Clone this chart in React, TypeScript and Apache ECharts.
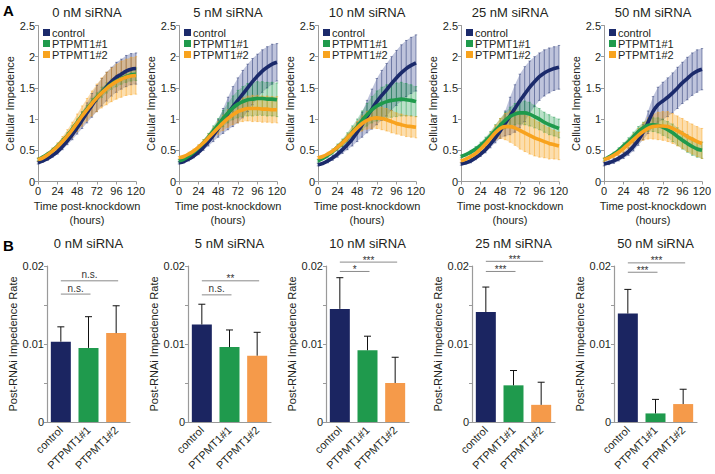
import React, { useEffect, useRef } from 'react';
import * as echarts from 'echarts';

// ---------- DATA ----------
const hours = [0, 6, 12, 18, 24, 30, 36, 42, 48, 54, 60, 66, 72, 78, 84, 90, 96, 102, 108, 114, 120];
const panelTitles = ['0 nM siRNA', '5 nM siRNA', '10 nM siRNA', '25 nM siRNA', '50 nM siRNA'];
const groupNames = ['control', 'PTPMT1#1', 'PTPMT1#2'];

// 0 nM
const ctrl0 = [0.30, 0.33, 0.37, 0.42, 0.48, 0.56, 0.65, 0.75, 0.86, 0.98, 1.10, 1.22, 1.33, 1.43, 1.52, 1.60, 1.67, 1.72, 1.77, 1.80, 1.81];
const ctrl0Err = [0.02, 0.02, 0.03, 0.03, 0.04, 0.05, 0.06, 0.08, 0.10, 0.13, 0.16, 0.19, 0.21, 0.22, 0.23, 0.23, 0.24, 0.24, 0.25, 0.25, 0.25];
const ptA0 = [0.35, 0.39, 0.44, 0.50, 0.57, 0.65, 0.74, 0.84, 0.95, 1.06, 1.16, 1.26, 1.35, 1.43, 1.50, 1.56, 1.61, 1.65, 1.68, 1.71, 1.72];
const ptA0Err = [0.02, 0.02, 0.02, 0.03, 0.03, 0.04, 0.04, 0.05, 0.05, 0.06, 0.06, 0.07, 0.07, 0.08, 0.08, 0.08, 0.09, 0.09, 0.09, 0.10, 0.10];
const ptB0 = [0.35, 0.38, 0.43, 0.49, 0.56, 0.64, 0.73, 0.83, 0.94, 1.05, 1.15, 1.25, 1.34, 1.42, 1.49, 1.55, 1.60, 1.64, 1.67, 1.69, 1.70];
const ptB0Err = [0.03, 0.03, 0.04, 0.05, 0.06, 0.08, 0.10, 0.12, 0.14, 0.16, 0.18, 0.20, 0.22, 0.24, 0.26, 0.27, 0.28, 0.29, 0.29, 0.30, 0.30];
// 5 nM
const ctrl5 = [0.30, 0.32, 0.36, 0.41, 0.47, 0.55, 0.64, 0.74, 0.85, 0.97, 1.09, 1.20, 1.30, 1.40, 1.50, 1.60, 1.69, 1.77, 1.83, 1.88, 1.91];
const ctrl5Err = [0.02, 0.02, 0.03, 0.03, 0.04, 0.05, 0.07, 0.10, 0.14, 0.20, 0.26, 0.32, 0.36, 0.38, 0.38, 0.37, 0.35, 0.34, 0.33, 0.32, 0.30];
const ptA5 = [0.33, 0.36, 0.41, 0.47, 0.54, 0.62, 0.71, 0.81, 0.91, 1.01, 1.10, 1.18, 1.24, 1.28, 1.31, 1.32, 1.33, 1.33, 1.32, 1.32, 1.31];
const ptA5Err = [0.02, 0.02, 0.03, 0.03, 0.04, 0.05, 0.06, 0.08, 0.10, 0.13, 0.16, 0.19, 0.22, 0.24, 0.26, 0.27, 0.27, 0.27, 0.27, 0.27, 0.27];
const ptB5 = [0.38, 0.40, 0.44, 0.49, 0.55, 0.62, 0.70, 0.78, 0.86, 0.94, 1.01, 1.07, 1.12, 1.15, 1.17, 1.17, 1.17, 1.16, 1.16, 1.15, 1.15];
const ptB5Err = [0.02, 0.02, 0.03, 0.03, 0.04, 0.05, 0.06, 0.08, 0.10, 0.12, 0.14, 0.16, 0.18, 0.19, 0.20, 0.21, 0.21, 0.21, 0.21, 0.21, 0.21];
// 10 nM
const ctrl10 = [0.27, 0.29, 0.33, 0.38, 0.44, 0.51, 0.59, 0.68, 0.79, 0.91, 1.04, 1.16, 1.28, 1.38, 1.47, 1.57, 1.66, 1.74, 1.81, 1.86, 1.90];
const ctrl10Err = [0.02, 0.02, 0.03, 0.04, 0.05, 0.06, 0.08, 0.11, 0.15, 0.20, 0.26, 0.32, 0.37, 0.40, 0.42, 0.43, 0.44, 0.45, 0.45, 0.45, 0.45];
const ptA10 = [0.33, 0.37, 0.42, 0.48, 0.55, 0.62, 0.70, 0.79, 0.88, 0.98, 1.07, 1.15, 1.21, 1.25, 1.28, 1.30, 1.31, 1.32, 1.31, 1.30, 1.28];
const ptA10Err = [0.02, 0.02, 0.03, 0.04, 0.05, 0.06, 0.08, 0.10, 0.12, 0.15, 0.18, 0.21, 0.24, 0.26, 0.27, 0.27, 0.27, 0.27, 0.26, 0.25, 0.24];
const ptB10 = [0.38, 0.40, 0.44, 0.49, 0.55, 0.62, 0.70, 0.78, 0.86, 0.93, 0.98, 1.01, 1.02, 1.01, 0.99, 0.96, 0.93, 0.91, 0.89, 0.88, 0.87];
const ptB10Err = [0.02, 0.02, 0.03, 0.03, 0.04, 0.05, 0.06, 0.08, 0.10, 0.12, 0.14, 0.16, 0.17, 0.18, 0.18, 0.18, 0.17, 0.17, 0.17, 0.17, 0.17];
// 25 nM
const ctrl25 = [0.28, 0.30, 0.33, 0.38, 0.44, 0.51, 0.60, 0.70, 0.81, 0.93, 1.05, 1.17, 1.29, 1.40, 1.51, 1.60, 1.68, 1.74, 1.78, 1.81, 1.83];
const ctrl25Err = [0.02, 0.02, 0.03, 0.03, 0.04, 0.05, 0.06, 0.08, 0.12, 0.20, 0.30, 0.38, 0.43, 0.44, 0.42, 0.40, 0.38, 0.37, 0.36, 0.35, 0.35];
const ptA25 = [0.40, 0.43, 0.47, 0.52, 0.58, 0.65, 0.73, 0.82, 0.90, 0.98, 1.04, 1.08, 1.10, 1.10, 1.08, 1.04, 1.00, 0.95, 0.91, 0.88, 0.85];
const ptA25Err = [0.02, 0.02, 0.03, 0.04, 0.05, 0.06, 0.07, 0.09, 0.11, 0.13, 0.15, 0.17, 0.18, 0.19, 0.19, 0.18, 0.17, 0.16, 0.16, 0.15, 0.15];
const ptB25 = [0.33, 0.36, 0.40, 0.45, 0.52, 0.60, 0.69, 0.78, 0.85, 0.88, 0.88, 0.86, 0.82, 0.78, 0.74, 0.70, 0.67, 0.64, 0.61, 0.59, 0.57];
const ptB25Err = [0.02, 0.02, 0.03, 0.04, 0.05, 0.07, 0.09, 0.12, 0.16, 0.21, 0.25, 0.28, 0.30, 0.30, 0.30, 0.29, 0.28, 0.26, 0.25, 0.23, 0.22];
// 50 nM
const ctrl50 = [0.28, 0.30, 0.33, 0.37, 0.42, 0.48, 0.56, 0.66, 0.79, 0.95, 1.12, 1.23, 1.29, 1.35, 1.42, 1.50, 1.58, 1.65, 1.72, 1.77, 1.80];
const ctrl50Err = [0.03, 0.03, 0.04, 0.04, 0.05, 0.06, 0.07, 0.08, 0.12, 0.18, 0.24, 0.28, 0.30, 0.31, 0.32, 0.33, 0.33, 0.34, 0.34, 0.34, 0.33];
const ptA50 = [0.35, 0.39, 0.44, 0.50, 0.57, 0.64, 0.72, 0.80, 0.86, 0.90, 0.91, 0.90, 0.87, 0.83, 0.78, 0.72, 0.66, 0.61, 0.56, 0.52, 0.50];
const ptA50Err = [0.02, 0.02, 0.03, 0.04, 0.05, 0.06, 0.07, 0.08, 0.09, 0.10, 0.11, 0.12, 0.13, 0.13, 0.14, 0.14, 0.14, 0.14, 0.14, 0.13, 0.13];
const ptB50 = [0.35, 0.38, 0.42, 0.47, 0.53, 0.60, 0.67, 0.74, 0.80, 0.85, 0.88, 0.89, 0.89, 0.88, 0.85, 0.81, 0.77, 0.72, 0.68, 0.64, 0.61];
const ptB50Err = [0.03, 0.03, 0.04, 0.05, 0.06, 0.07, 0.09, 0.11, 0.14, 0.17, 0.20, 0.22, 0.23, 0.24, 0.24, 0.24, 0.24, 0.24, 0.24, 0.24, 0.24];

// Post-RNAi impedance rate (bars) and SD
const rate0 = [0.0103, 0.0095, 0.0114];
const rate0Err = [0.0019, 0.0040, 0.0035];
const rate5 = [0.0125, 0.0096, 0.0085];
const rate5Err = [0.0026, 0.0022, 0.0030];
const rate10 = [0.0145, 0.0092, 0.0050];
const rate10Err = [0.0040, 0.0018, 0.0033];
const rate25 = [0.0141, 0.0047, 0.0022];
const rate25Err = [0.0032, 0.0019, 0.0029];
const rate50 = [0.0139, 0.0011, 0.0023];
const rate50Err = [0.0031, 0.0018, 0.0019];

// significance brackets: [from category, to category, height, label]
const sig0: [number, number, number, string][] = [[0, 2, 0.0181, 'n.s.'], [0, 1, 0.0164, 'n.s.']];
const sig5: [number, number, number, string][] = [[0, 2, 0.0181, '**'], [0, 1, 0.0163, 'n.s.']];
const sig10: [number, number, number, string][] = [[0, 2, 0.0205, '***'], [0, 1, 0.0193, '*']];
const sig25: [number, number, number, string][] = [[0, 2, 0.0206, '***'], [0, 1, 0.0193, '***']];
const sig50: [number, number, number, string][] = [[0, 2, 0.0204, '***'], [0, 1, 0.0192, '***']];

const impMeans = [[ctrl0, ptA0, ptB0], [ctrl5, ptA5, ptB5], [ctrl10, ptA10, ptB10], [ctrl25, ptA25, ptB25], [ctrl50, ptA50, ptB50]];
const impErrs = [[ctrl0Err, ptA0Err, ptB0Err], [ctrl5Err, ptA5Err, ptB5Err], [ctrl10Err, ptA10Err, ptB10Err], [ctrl25Err, ptA25Err, ptB25Err], [ctrl50Err, ptA50Err, ptB50Err]];
const rates = [rate0, rate5, rate10, rate25, rate50];
const rateErrs = [rate0Err, rate5Err, rate10Err, rate25Err, rate50Err];
const sigs = [sig0, sig5, sig10, sig25, sig50];

// ---------- STYLE / LAYOUT ----------
const FONT = '"Liberation Sans", Arial, sans-serif';
const TXT = '#231f20';
const AX = '#9a9a9a';
const lineCol = ['#1b2a6b', '#1f9a4c', '#f8a31e'];
const bandCol = ['rgba(60,75,150,0.33)', 'rgba(31,154,76,0.30)', 'rgba(248,163,30,0.36)'];
const barCol = ['#1b2561', '#1f9a4d', '#f59a4a'];
const topLeft = [38, 179, 318, 461, 604];
const topW = 98;
const topTop = 25.5;
const topH = 156;
const botLeft = [47, 188, 326, 472, 614];
const botW = 83;
const botTop = 266;
const botH = 156;

function buildOption() {
  const option: any = {
    animation: false,
    textStyle: { fontFamily: FONT, color: TXT },
    title: [],
    grid: [],
    xAxis: [],
    yAxis: [],
    legend: [],
    series: [],
  };
  option.title.push({ text: 'A', left: 3, top: 3, padding: 0, textStyle: { fontFamily: FONT, fontSize: 15, fontWeight: 'bold', color: '#000' } });
  option.title.push({ text: 'B', left: 3, top: 238, padding: 0, textStyle: { fontFamily: FONT, fontSize: 15, fontWeight: 'bold', color: '#000' } });

  for (let p = 0; p < 5; p++) {
    const ti = 2 * p; // top grid / axis index
    const gi = 2 * p + 1; // bottom grid / axis index

    // ---- top line panel ----
    option.title.push({
      text: panelTitles[p], left: topLeft[p] + topW / 2, top: 6, textAlign: 'center', padding: 0,
      textStyle: { fontFamily: FONT, fontSize: 13, fontWeight: 'normal', color: TXT },
    });
    option.grid.push({ left: topLeft[p], top: topTop, width: topW, height: topH });
    option.xAxis.push({
      type: 'value', gridIndex: ti, min: 0, max: 120, interval: 24,
      axisLine: { lineStyle: { color: AX } },
      axisTick: { show: true, length: 3, lineStyle: { color: AX } },
      axisLabel: { fontSize: 11, color: TXT, margin: 4, fontFamily: FONT },
      splitLine: { show: false },
      name: 'Time post-knockdown\n(hours)', nameLocation: 'middle', nameGap: 17,
      nameTextStyle: { fontSize: 11, color: TXT, lineHeight: 14, fontFamily: FONT },
    });
    option.yAxis.push({
      type: 'value', gridIndex: ti, min: 0, max: 2.5, interval: 0.5,
      axisLine: { show: true, lineStyle: { color: AX } },
      axisTick: { show: true, length: 3, lineStyle: { color: AX } },
      axisLabel: { fontSize: 11, color: TXT, margin: 3, fontFamily: FONT },
      splitLine: { show: false },
      name: 'Cellular Impedence', nameLocation: 'middle', nameGap: 20,
      nameTextStyle: { fontSize: 11, color: TXT, fontFamily: FONT },
    });
    option.legend.push({
      data: groupNames, left: topLeft[p] + 5, top: 27, orient: 'vertical',
      itemWidth: 7, itemHeight: 7, itemGap: 0, icon: 'rect', padding: 0, selectedMode: false,
      textStyle: { fontSize: 11, color: TXT, lineHeight: 10, padding: [0, 0, 0, -3], fontFamily: FONT },
    });
    // error bands (polygon between mean-err and mean+err)
    for (let g = 0; g < 3; g++) {
      const m = impMeans[p][g];
      const e = impErrs[p][g];
      const fill = bandCol[g];
      option.series.push({
        type: 'custom', xAxisIndex: ti, yAxisIndex: ti, silent: true, z: 1,
        encode: { x: 0, y: [1, 2] },
        data: hours.map((t, i) => [t, m[i] - e[i], m[i] + e[i]]),
        renderItem: (params: any, api: any) => {
          if (params.dataIndex !== 0) return { type: 'group', children: [] };
          const pts: number[][] = [];
          for (let i = 0; i < hours.length; i++) pts.push(api.coord([hours[i], m[i] + e[i]]));
          for (let i = hours.length - 1; i >= 0; i--) pts.push(api.coord([hours[i], m[i] - e[i]]));
          return { type: 'polygon', shape: { points: pts }, style: { fill, stroke: 'none' } };
        },
      });
    }
    // vertical error bars
    for (let g = 0; g < 3; g++) {
      const m = impMeans[p][g];
      const e = impErrs[p][g];
      const col = lineCol[g];
      option.series.push({
        type: 'custom', xAxisIndex: ti, yAxisIndex: ti, silent: true, z: 2,
        encode: { x: 0, y: [1, 2] },
        data: hours.map((t, i) => [t, m[i] - e[i], m[i] + e[i]]),
        renderItem: (params: any, api: any) => {
          const lo = api.coord([api.value(0), api.value(1)]);
          const hi = api.coord([api.value(0), api.value(2)]);
          const st = { stroke: col, lineWidth: 0.7, opacity: 0.7 };
          return {
            type: 'group', children: [
              { type: 'line', shape: { x1: lo[0], y1: lo[1], x2: hi[0], y2: hi[1] }, style: st },
              { type: 'line', shape: { x1: hi[0] - 1.2, y1: hi[1], x2: hi[0] + 1.2, y2: hi[1] }, style: st },
              { type: 'line', shape: { x1: lo[0] - 1.2, y1: lo[1], x2: lo[0] + 1.2, y2: lo[1] }, style: st },
            ],
          };
        },
      });
    }
    [1, 2, 0].forEach((g) => {
      option.series.push({
        type: 'line', name: groupNames[g], xAxisIndex: ti, yAxisIndex: ti, smooth: 0.3, symbol: 'none',
        color: lineCol[g], lineStyle: { color: lineCol[g], width: 3.6 }, z: 3 + g,
        data: hours.map((t, i) => [t, impMeans[p][g][i]]),
      });
    });

    // ---- bottom bar panel ----
    option.title.push({
      text: panelTitles[p], left: botLeft[p] + botW / 2, top: 237, textAlign: 'center', padding: 0,
      textStyle: { fontFamily: FONT, fontSize: 13, fontWeight: 'normal', color: TXT },
    });
    option.grid.push({ left: botLeft[p], top: botTop, width: botW, height: botH });
    option.xAxis.push({
      type: 'category', gridIndex: gi, data: groupNames,
      axisLine: { lineStyle: { color: AX, width: 1.2 } },
      axisTick: { show: false },
      axisLabel: { fontSize: 11, color: TXT, rotate: 45, margin: 6, fontFamily: FONT, interval: 0 },
    });
    option.yAxis.push({
      type: 'value', gridIndex: gi, min: 0, max: 0.02, interval: 0.005,
      axisLine: { show: true, lineStyle: { color: AX, width: 1.2 } },
      axisTick: { show: true, length: 3, lineStyle: { color: AX } },
      axisLabel: {
        fontSize: 11, color: TXT, margin: 3, fontFamily: FONT,
        formatter: (v: number) => {
          if (v === 0) return '0';
          const h = v * 100;
          return Math.abs(h - Math.round(h)) < 1e-6 ? v.toFixed(2) : '';
        },
      },
      splitLine: { show: false },
      name: 'Post-RNAi Impedence Rate', nameLocation: 'middle', nameGap: 29,
      nameTextStyle: { fontSize: 11, color: TXT, fontFamily: FONT },
    });
    option.series.push({
      type: 'bar', xAxisIndex: gi, yAxisIndex: gi, barWidth: 20, silent: true,
      data: rates[p].map((v, i) => ({ value: v, itemStyle: { color: barCol[i] } })),
    });
    const errs = rateErrs[p];
    option.series.push({
      type: 'custom', xAxisIndex: gi, yAxisIndex: gi, silent: true, z: 5,
      encode: { x: 0, y: [1, 2] },
      data: rates[p].map((v, i) => [i, v, v + errs[i]]),
      renderItem: (params: any, api: any) => {
        const lo = api.coord([api.value(0), api.value(1)]);
        const hi = api.coord([api.value(0), api.value(2)]);
        return {
          type: 'group', children: [
            { type: 'line', shape: { x1: lo[0], y1: lo[1], x2: hi[0], y2: hi[1] }, style: { stroke: '#111', lineWidth: 1 } },
            { type: 'line', shape: { x1: hi[0] - 3.5, y1: hi[1], x2: hi[0] + 3.5, y2: hi[1] }, style: { stroke: '#111', lineWidth: 1 } },
          ],
        };
      },
    });
    const sg = sigs[p];
    option.series.push({
      type: 'custom', xAxisIndex: gi, yAxisIndex: gi, silent: true, clip: false, z: 6,
      encode: { x: [0, 1], y: 2 },
      data: sg.map((s) => [s[0], s[1], s[2]]),
      renderItem: (params: any, api: any) => {
        const a = api.coord([api.value(0), api.value(2)]);
        const b = api.coord([api.value(1), api.value(2)]);
        const label = sg[params.dataIndex][3];
        const star = label.indexOf('*') >= 0;
        return {
          type: 'group', children: [
            { type: 'line', shape: { x1: a[0], y1: a[1], x2: b[0] + 2, y2: b[1] }, style: { stroke: '#8a8a8a', lineWidth: 1 } },
            {
              type: 'text', x: (a[0] + b[0] + 2) / 2, y: star ? a[1] + 3 : a[1] - 1,
              style: { text: label, align: 'center', verticalAlign: 'bottom', fontSize: 10, fill: '#333', fontFamily: FONT },
            },
          ],
        };
      },
    });
  }
  return option;
}

export default function App() {
  const ref = useRef<HTMLDivElement>(null);
  useEffect(() => {
    if (!ref.current) return;
    const chart = echarts.init(ref.current, undefined, { renderer: 'svg' });
    chart.setOption(buildOption());
    return () => chart.dispose();
  }, []);
  return (
    <div
      ref={ref}
      style={{ position: 'fixed', left: 0, top: 0, width: 715, height: 474, background: '#fff' }}
    />
  );
}
